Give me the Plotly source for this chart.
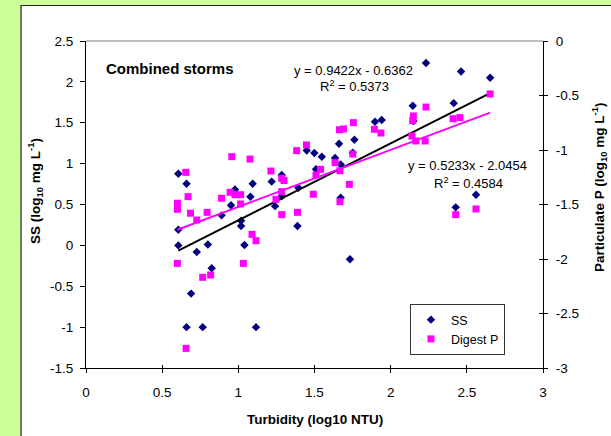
import plotly.graph_objects as go

# ---------------- data ----------------
ss_x = [0.606, 0.606, 0.606, 0.66, 0.727, 0.80, 0.825, 0.69, 0.66, 0.766, 1.116,
        0.89, 0.952, 0.978, 1.018, 1.018, 1.04, 1.079, 1.094, 1.219, 1.241, 1.285,
        1.285, 1.388, 1.394, 1.449, 1.499, 1.548, 1.635, 1.661, 1.762, 1.751, 1.672,
        1.51, 1.897, 1.941, 2.145, 2.149, 2.232, 2.462, 2.653, 2.414, 1.672, 2.56,
        2.427, 1.733]
ss_y = [0.877, 0.00, 0.19, 0.755, -0.08, 0.01, -0.28, -0.59, -1.0, -1.0, -1.0,
        0.367, 0.49, 0.685, 0.30, 0.236, 0.004, 0.595, 0.755, 0.78, 0.48, 0.60,
        0.86, 0.236, 0.705, 1.16, 1.13, 1.085, 1.07, 1.244, 1.293, 1.134, 0.99,
        0.93, 1.513, 1.533, 1.709, 1.52, 2.23, 2.128, 2.05, 1.74, 0.583, 0.62,
        0.465, -0.171]

p_x = [0.60, 0.60, 0.60, 0.655, 0.67, 0.686, 0.727, 0.795, 0.766, 0.818, 0.657,
       0.89, 0.946, 0.978, 1.015, 1.015, 0.957, 1.077, 1.033, 1.09, 1.116, 1.214,
       1.285, 1.30, 1.247, 1.285, 1.285, 1.388, 1.383, 1.447, 1.492, 1.51, 1.54,
       1.635, 1.664, 1.69, 1.755, 1.751, 1.667, 1.729, 1.667, 1.893, 1.936, 2.145,
       2.149, 2.14, 2.165, 2.226, 2.232, 2.41, 2.455, 2.653, 2.427, 2.56]
p_y = [-1.488, -1.544, -2.04, -1.205, -1.428, -1.58, -1.642, -1.572, -2.168, -2.147, -2.82,
       -1.443, -1.388, -1.41, -1.41, -1.495, -1.061, -1.083, -2.04, -1.774, -1.832, -1.193,
       -1.26, -1.28, -1.453, -1.382, -1.593, -1.572, -1.006, -0.954, -1.406, -1.229, -1.177,
       -1.116, -0.814, -0.807, -0.749, -1.037, -1.19, -1.315, -1.474, -0.81, -0.844, -0.731,
       -0.688, -0.872, -0.917, -0.917, -0.606, -0.713, -0.703, -0.486, -1.593, -1.541]

# trendline coefficients (as printed on the chart)
ss_slope, ss_intercept, ss_r2 = 0.9422, -0.6362, 0.5373
p_slope, p_intercept, p_r2 = 0.5233, -2.0454, 0.4584

x_ticks = [0, 0.5, 1, 1.5, 2, 2.5, 3]
x_ticktext = ["0", "0.5", "1", "1.5", "2", "2.5", "3"]
y_ticks = [-1.5, -1, -0.5, 0, 0.5, 1, 1.5, 2, 2.5]
y_ticktext = ["-1.5", "-1", "-0.5", "0", "0.5", "1", "1.5", "2", "2.5"]
y2_ticks = [-3, -2.5, -2, -1.5, -1, -0.5, 0]
y2_ticktext = ["-3", "-2.5", "-2", "-1.5", "-1", "-0.5", "0"]

# ---------------- figure ----------------
FONT = "Liberation Sans, Arial, sans-serif"
NAVY = "#000080"
MAG = "#FF00FF"

fig = go.Figure()

fig.add_trace(go.Scatter(x=ss_x, y=ss_y, mode="markers", name="SS",
                         marker=dict(symbol="diamond", size=6.5, color=NAVY),
                         xaxis="x", yaxis="y"))

lx_ss = [min(ss_x), max(ss_x)]
fig.add_trace(go.Scatter(x=lx_ss, y=[ss_slope * v + ss_intercept for v in lx_ss],
                         mode="lines", line=dict(color="black", width=2),
                         showlegend=False, hoverinfo="skip", xaxis="x", yaxis="y"))

fig.add_trace(go.Scatter(x=p_x, y=p_y, mode="markers", name="Digest P",
                         marker=dict(symbol="square", size=7, color=MAG),
                         xaxis="x", yaxis="y2"))

lx_p = [min(p_x), max(p_x)]
fig.add_trace(go.Scatter(x=lx_p, y=[p_slope * v + p_intercept for v in lx_p],
                         mode="lines", line=dict(color=MAG, width=2),
                         showlegend=False, hoverinfo="skip", xaxis="x", yaxis="y2"))

# dummy traces to realise the inner-tick overlay axes
fig.add_trace(go.Scatter(x=[None], y=[None], mode="markers", showlegend=False,
                         hoverinfo="skip", xaxis="x3", yaxis="y"))
fig.add_trace(go.Scatter(x=[None], y=[None], mode="markers", showlegend=False,
                         hoverinfo="skip", xaxis="x", yaxis="y3"))

tickfont = dict(family=FONT, size=13.5, color="black")

fig.update_layout(
    width=611, height=436, autosize=False,
    margin=dict(l=86, r=68, t=41, b=68, pad=0),
    paper_bgcolor="#CCFF99", plot_bgcolor="white",
    font=dict(family=FONT, color="black"),
    showlegend=True,
    legend=dict(x=0.9168, y=0.1957, xanchor="right", yanchor="top",
                bgcolor="white", bordercolor="#333333", borderwidth=1,
                font=dict(family=FONT, size=12.5, color="black"),
                tracegroupgap=0, itemwidth=30),
    xaxis=dict(range=[0, 3], tickvals=x_ticks, ticktext=x_ticktext,
               showline=True, linecolor="black", linewidth=1,
               ticks="outside", ticklen=4, tickcolor="black",
               showgrid=False, zeroline=False, tickfont=tickfont,
               ticklabelstandoff=8, fixedrange=True),
    xaxis3=dict(range=[0, 3], tickvals=x_ticks, overlaying="x", anchor="y", side="bottom",
                showline=False, ticks="inside", ticklen=3, tickcolor="black",
                showticklabels=False, showgrid=False, zeroline=False),
    yaxis=dict(range=[-1.5, 2.5], tickvals=y_ticks, ticktext=y_ticktext,
               showline=True, linecolor="black", linewidth=1,
               ticks="outside", ticklen=5, tickcolor="black",
               showgrid=False, zeroline=False, tickfont=tickfont,
               ticklabelstandoff=4, fixedrange=True),
    yaxis2=dict(range=[-3, 0], tickvals=y2_ticks, ticktext=y2_ticktext,
                overlaying="y", side="right", anchor="x",
                showline=True, linecolor="black", linewidth=1,
                ticks="outside", ticklen=4, tickcolor="black",
                showgrid=False, zeroline=False, tickfont=tickfont,
                ticklabelstandoff=5, fixedrange=True),
    yaxis3=dict(range=[-3, 0], tickvals=y2_ticks, overlaying="y", side="right", anchor="x",
                showline=False, ticks="inside", ticklen=4, tickcolor="black",
                showticklabels=False, showgrid=False, zeroline=False),
    shapes=[
        # white chart-area panel with thin dark border
        dict(type="rect", xref="paper", yref="paper", x0=-0.1422, x1=1.2298,
             y0=-0.30, y1=1.1086, fillcolor="white",
             line=dict(color="#222222", width=1.2), layer="below"),
        # plot-area frame (top edge grey)
        dict(type="line", xref="paper", yref="paper", x0=0, x1=1, y0=1, y1=1,
             line=dict(color="#808080", width=1), layer="above"),
    ],
    annotations=[
        dict(text="<b>Combined storms</b>", xref="paper", yref="paper",
             x=(104 - 86) / 457, y=(368 - 69) / 327, xanchor="left", yanchor="middle",
             showarrow=False, font=dict(family=FONT, size=15, color="black")),
        dict(text=f"y = {ss_slope:.4f}x - {abs(ss_intercept):.4f}", xref="paper", yref="paper",
             x=(353 - 86) / 457, y=(368 - 70) / 327, xanchor="center", yanchor="middle",
             showarrow=False, font=dict(family=FONT, size=13, color="black")),
        dict(text=f"R<sup>2</sup> = {ss_r2:.4f}", xref="paper", yref="paper",
             x=(354 - 86) / 457, y=(368 - 86) / 327, xanchor="center", yanchor="middle",
             showarrow=False, font=dict(family=FONT, size=13, color="black")),
        dict(text=f"y = {p_slope:.4f}x - {abs(p_intercept):.4f}", xref="paper", yref="paper",
             x=(467.5 - 86) / 457, y=(368 - 165) / 327, xanchor="center", yanchor="middle",
             showarrow=False, font=dict(family=FONT, size=13, color="black")),
        dict(text=f"R<sup>2</sup> = {p_r2:.4f}", xref="paper", yref="paper",
             x=(468.5 - 86) / 457, y=(368 - 182.5) / 327, xanchor="center", yanchor="middle",
             showarrow=False, font=dict(family=FONT, size=13, color="black")),
        dict(text="<b>SS (log<sub>10</sub> mg L<sup>-1</sup>)</b>", xref="paper", yref="paper",
             x=(35 - 86) / 457, y=(368 - 191) / 327, xanchor="center", yanchor="middle",
             textangle=-90, showarrow=False, font=dict(family=FONT, size=13.5, color="black")),
        dict(text="<b>Particulate P (log<sub>10</sub> mg L<sup>-1</sup>)</b>", xref="paper", yref="paper",
             x=(599 - 86) / 457, y=(368 - 188) / 327, xanchor="center", yanchor="middle",
             textangle=-90, showarrow=False, font=dict(family=FONT, size=13.5, color="black")),
        dict(text="<b>Turbidity (log10 NTU)</b>", xref="paper", yref="paper",
             x=0.5, y=(368 - 419.5) / 327, xanchor="center", yanchor="middle",
             showarrow=False, font=dict(family=FONT, size=13.5, color="black")),
    ],
)

fig.write_html("out.html",
               config={"displayModeBar": False, "staticPlot": True},
               post_script="document.body.style.margin='0';document.body.style.overflow='hidden';")
